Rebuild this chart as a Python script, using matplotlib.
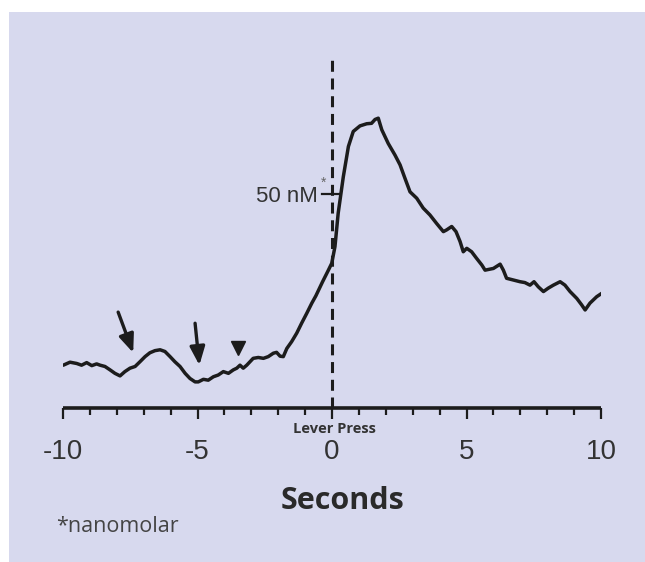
import matplotlib
matplotlib.use('Agg')
import matplotlib.pyplot as plt
from matplotlib.patches import Rectangle

# dopamine trace around the lever press (seconds, nM above axis)
t_sec = [-9.99, -9.74, -9.49, -9.31, -9.12, -8.93, -8.75, -8.62, -8.44, -8.25,
         -8.07, -7.88, -7.70, -7.51, -7.32, -7.14, -6.95, -6.77, -6.58, -6.39,
         -6.21, -6.02, -5.84, -5.65, -5.46, -5.28, -5.09, -4.97, -4.78, -4.60,
         -4.41, -4.23, -4.04, -3.85, -3.67, -3.54, -3.42, -3.30, -3.17, -3.05,
         -2.93, -2.74, -2.55, -2.37, -2.18, -2.06, -1.93, -1.81, -1.68, -1.50,
         -1.31, -1.13, -0.94, -0.75, -0.60, -0.35, -0.15, -0.01, 0.11, 0.23,
         0.42, 0.61, 0.79, 1.04, 1.29, 1.47, 1.60, 1.72, 1.85, 2.09,
         2.34, 2.53, 2.71, 2.90, 3.15, 3.39, 3.64, 3.89, 4.14, 4.26,
         4.45, 4.61, 4.76, 4.88, 5.01, 5.19, 5.37, 5.57, 5.69, 6.00,
         6.25, 6.37, 6.49, 6.74, 6.99, 7.17, 7.36, 7.51, 7.67, 7.86,
         8.04, 8.23, 8.48, 8.66, 8.85, 9.10, 9.28, 9.41, 9.59, 9.84, 10.03]
conc = [10.0, 10.7, 10.4, 10.0, 10.6, 9.9, 10.3, 10.0, 9.7, 8.9,
        8.1, 7.5, 8.5, 9.3, 9.7, 10.8, 12.0, 12.9, 13.4, 13.6,
        13.2, 12.0, 10.8, 9.7, 8.1, 6.9, 6.1, 6.1, 6.7, 6.5,
        7.3, 7.7, 8.5, 8.1, 8.9, 9.3, 10.0, 9.3, 10.0, 10.8,
        11.6, 11.8, 11.6, 12.0, 12.8, 13.0, 12.1, 12.0, 13.9, 15.5,
        17.5, 19.8, 22.1, 24.5, 26.2, 29.5, 32.0, 33.8, 37.7, 45.5,
        54.0, 61.1, 64.6, 65.9, 66.4, 66.5, 67.4, 67.7, 65.0, 61.8,
        59.1, 56.8, 53.7, 50.5, 49.0, 46.7, 45.1, 43.1, 41.2, 41.6,
        42.4, 41.2, 38.9, 36.5, 37.3, 36.5, 35.0, 33.4, 32.2, 32.6,
        33.6, 32.2, 30.3, 29.9, 29.5, 29.3, 28.7, 29.5, 28.3, 27.2,
        28.0, 28.7, 29.5, 28.7, 27.2, 25.6, 24.1, 22.9, 24.5, 26.0, 26.8]

# arrows: (tail_t, tail_c, head_t, head_c)
arrows = [(-7.95, 22.4, -7.39, 12.9), (-5.09, 19.8, -4.93, 10.0)]
triangle_t, triangle_c = -3.49, 14.0

major_ticks = [-10, -5, 0, 5, 10]
major_labels = ['-10', '-5', '0', '5', '10']
minor_ticks = list(range(-10, 11))
scale_value = 50

ink = '#1c1c1c'
bg = '#d7d9ee'

fig = plt.figure(figsize=(6.45, 5.62), dpi=100)
fig.patch.set_facecolor('white')
fig.patches.append(Rectangle((9 / 645, 0), 1 - 9 / 645, 1 - 12 / 562,
                             transform=fig.transFigure, facecolor=bg,
                             edgecolor='none', zorder=-10))

ax = fig.add_axes([63 / 645, 1 - 408 / 562, 538 / 645, 378 / 562])
ax.set_facecolor('none')
ax.set_xlim(-10, 10)
ax.set_ylim(0, 88.3)

for side in ['top', 'right', 'left']:
    ax.spines[side].set_visible(False)
ax.spines['bottom'].set_linewidth(2.6)
ax.spines['bottom'].set_color(ink)
ax.spines['bottom'].set_capstyle('butt')

ax.set_yticks([])
ax.set_xticks(major_ticks)
ax.set_xticks(minor_ticks, minor=True)
ax.set_xticklabels(major_labels, fontsize=20, family='Liberation Sans', color='#333333')
ax.tick_params(axis='x', which='major', direction='out', length=8, width=1.6,
               color=ink, pad=14)
ax.tick_params(axis='x', which='minor', direction='out', length=5, width=1.6, color=ink)

# lever press marker
ax.plot([0, 0], [0, 82.3], color=ink, lw=2.2, dashes=(3.6, 2.2), solid_capstyle='butt')
ax.text(0.1, -4.9, 'Lever Press', ha='center', va='center', fontsize=10.5,
        family='Open Sans', fontweight='bold', color='#333333', clip_on=False)

# 50 nM scale mark
ax.plot([-0.37, 0.30], [scale_value, scale_value], color=ink, lw=1.6)
ax.text(-0.52, scale_value - 0.7, '50 nM', ha='right', va='center', fontsize=16,
        family='Liberation Sans', color='#333333')
ax.text(-0.30, scale_value + 2.6, '*', ha='center', va='center', fontsize=10,
        family='Liberation Sans', color='#666666')

ax.plot(t_sec, conc, color=ink, lw=2.5, solid_joinstyle='round', solid_capstyle='round')

for t0, c0, t1, c1 in arrows:
    ax.annotate('', xy=(t1, c1), xytext=(t0, c0),
                arrowprops=dict(arrowstyle='-|>,head_length=1.1,head_width=0.45',
                                color=ink, lw=2.4, shrinkA=0, shrinkB=0))
ax.plot([triangle_t], [triangle_c], marker='v', markersize=10, color=ink, linestyle='none')

fig.text(342 / 645, 1 - 501 / 562, 'Seconds', ha='center', va='center', fontsize=22,
         family='Open Sans', fontweight='bold', color='#2a2a2a')
fig.text(56 / 645, 1 - 526 / 562, '*nanomolar', ha='left', va='center', fontsize=15.5,
         family='Open Sans', color='#444444')

fig.savefig('out.png', dpi=100, facecolor=fig.get_facecolor())
